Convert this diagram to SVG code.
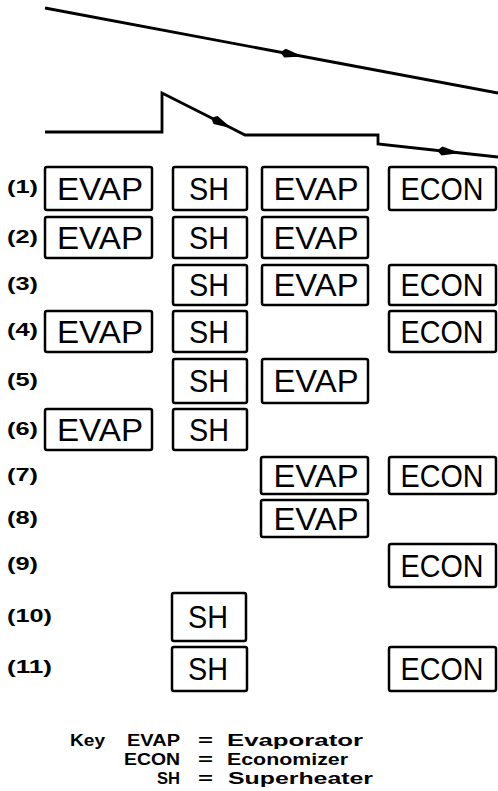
<svg xmlns="http://www.w3.org/2000/svg" width="498" height="791" viewBox="0 0 498 791">
<style>
.box rect{fill:#fff;stroke:#000;stroke-width:2.5}
.box text{font-family:"Liberation Sans",Arial,sans-serif;font-size:32px;fill:#000;text-anchor:middle}
.lbl{font-family:"Liberation Sans",Arial,sans-serif;font-size:18px;font-weight:bold;fill:#000}
.key{font-family:"Liberation Sans",Arial,sans-serif;font-size:16px;font-weight:bold;fill:#000}
.ln{fill:none;stroke:#000;stroke-width:2.8;stroke-linejoin:miter}
</style>
<defs>
<marker id="ah" markerUnits="userSpaceOnUse" markerWidth="30" markerHeight="14" refX="0" refY="0" viewBox="-12 -7 30 14" orient="auto" overflow="visible">
<polygon points="-10,0 -5,-4.5 13,0 -5,4.5" fill="#000"/>
</marker>
</defs>
<rect width="498" height="791" fill="#fff"/>
<g id="connectors">
<path class="ln" d="M45,8 L290,54" marker-end="url(#ah)"/>
<path class="ln" d="M290,54 L498,93"/>
<path class="ln" d="M45,132 H162 V93 L220,122.3" marker-end="url(#ah)"/>
<path class="ln" d="M220,122.3 L245,135 H378 V144 L447,151.5" marker-end="url(#ah)"/>
<path class="ln" d="M447,151.5 L498,157"/>
</g>
<g id="labels">
<text class="lbl" x="7" y="193" textLength="31" lengthAdjust="spacingAndGlyphs">(1)</text>
<text class="lbl" x="7" y="243" textLength="31" lengthAdjust="spacingAndGlyphs">(2)</text>
<text class="lbl" x="7" y="290" textLength="31" lengthAdjust="spacingAndGlyphs">(3)</text>
<text class="lbl" x="7" y="336" textLength="31" lengthAdjust="spacingAndGlyphs">(4)</text>
<text class="lbl" x="7" y="386" textLength="31" lengthAdjust="spacingAndGlyphs">(5)</text>
<text class="lbl" x="7" y="435" textLength="31" lengthAdjust="spacingAndGlyphs">(6)</text>
<text class="lbl" x="7" y="481" textLength="31" lengthAdjust="spacingAndGlyphs">(7)</text>
<text class="lbl" x="7" y="524" textLength="31" lengthAdjust="spacingAndGlyphs">(8)</text>
<text class="lbl" x="7" y="570" textLength="31" lengthAdjust="spacingAndGlyphs">(9)</text>
<text class="lbl" x="7" y="622" textLength="45" lengthAdjust="spacingAndGlyphs">(10)</text>
<text class="lbl" x="7" y="673" textLength="45" lengthAdjust="spacingAndGlyphs">(11)</text>
</g>
<!-- row 1 -->
<g id="r1-evap1" class="box"><rect x="45" y="167" width="107" height="43" rx="2"/><text x="100" y="200" textLength="86" lengthAdjust="spacingAndGlyphs">EVAP</text></g>
<g id="r1-sh" class="box"><rect x="173" y="167" width="74" height="43" rx="2"/><text x="209" y="200" textLength="40" lengthAdjust="spacingAndGlyphs">SH</text></g>
<g id="r1-evap2" class="box"><rect x="262" y="167" width="106" height="43" rx="2"/><text x="316" y="200" textLength="85" lengthAdjust="spacingAndGlyphs">EVAP</text></g>
<g id="r1-econ" class="box"><rect x="389" y="167" width="107" height="43" rx="2"/><text x="442" y="200" textLength="83" lengthAdjust="spacingAndGlyphs">ECON</text></g>
<!-- row 2 -->
<g id="r2-evap1" class="box"><rect x="45" y="217" width="107" height="41" rx="2"/><text x="100" y="249" textLength="86" lengthAdjust="spacingAndGlyphs">EVAP</text></g>
<g id="r2-sh" class="box"><rect x="173" y="217" width="74" height="41" rx="2"/><text x="209" y="249" textLength="40" lengthAdjust="spacingAndGlyphs">SH</text></g>
<g id="r2-evap2" class="box"><rect x="262" y="217" width="106" height="41" rx="2"/><text x="316" y="249" textLength="85" lengthAdjust="spacingAndGlyphs">EVAP</text></g>
<!-- row 3 -->
<g id="r3-sh" class="box"><rect x="173" y="265" width="74" height="40" rx="2"/><text x="209" y="296" textLength="40" lengthAdjust="spacingAndGlyphs">SH</text></g>
<g id="r3-evap2" class="box"><rect x="262" y="265" width="106" height="40" rx="2"/><text x="316" y="296" textLength="85" lengthAdjust="spacingAndGlyphs">EVAP</text></g>
<g id="r3-econ" class="box"><rect x="389" y="265" width="107" height="40" rx="2"/><text x="442" y="296" textLength="83" lengthAdjust="spacingAndGlyphs">ECON</text></g>
<!-- row 4 -->
<g id="r4-evap1" class="box"><rect x="45" y="311" width="107" height="41" rx="2"/><text x="100" y="343" textLength="86" lengthAdjust="spacingAndGlyphs">EVAP</text></g>
<g id="r4-sh" class="box"><rect x="173" y="311" width="74" height="41" rx="2"/><text x="209" y="343" textLength="40" lengthAdjust="spacingAndGlyphs">SH</text></g>
<g id="r4-econ" class="box"><rect x="389" y="311" width="107" height="41" rx="2"/><text x="442" y="343" textLength="83" lengthAdjust="spacingAndGlyphs">ECON</text></g>
<!-- row 5 -->
<g id="r5-sh" class="box"><rect x="173" y="359" width="74" height="44" rx="2"/><text x="209" y="392" textLength="40" lengthAdjust="spacingAndGlyphs">SH</text></g>
<g id="r5-evap2" class="box"><rect x="262" y="359" width="106" height="44" rx="2"/><text x="316" y="392" textLength="85" lengthAdjust="spacingAndGlyphs">EVAP</text></g>
<!-- row 6 -->
<g id="r6-evap1" class="box"><rect x="45" y="409" width="107" height="41" rx="2"/><text x="100" y="441" textLength="86" lengthAdjust="spacingAndGlyphs">EVAP</text></g>
<g id="r6-sh" class="box"><rect x="173" y="409" width="74" height="41" rx="2"/><text x="209" y="441" textLength="40" lengthAdjust="spacingAndGlyphs">SH</text></g>
<!-- row 7 -->
<g id="r7-evap2" class="box"><rect x="261" y="457" width="107" height="37" rx="2"/><text x="316" y="487" textLength="85" lengthAdjust="spacingAndGlyphs">EVAP</text></g>
<g id="r7-econ" class="box"><rect x="389" y="457" width="107" height="37" rx="2"/><text x="442" y="487" textLength="83" lengthAdjust="spacingAndGlyphs">ECON</text></g>
<!-- row 8 -->
<g id="r8-evap2" class="box"><rect x="261" y="500" width="107" height="37" rx="2"/><text x="316" y="530" textLength="85" lengthAdjust="spacingAndGlyphs">EVAP</text></g>
<!-- row 9 -->
<g id="r9-econ" class="box"><rect x="389" y="544" width="107" height="43" rx="2"/><text x="442" y="577" textLength="83" lengthAdjust="spacingAndGlyphs">ECON</text></g>
<!-- row 10 -->
<g id="r10-sh" class="box"><rect x="172" y="593" width="74" height="48" rx="2"/><text x="208" y="628" textLength="40" lengthAdjust="spacingAndGlyphs">SH</text></g>
<!-- row 11 -->
<g id="r11-sh" class="box"><rect x="172" y="647" width="75" height="44" rx="2"/><text x="208" y="680" textLength="40" lengthAdjust="spacingAndGlyphs">SH</text></g>
<g id="r11-econ" class="box"><rect x="389" y="647" width="107" height="44" rx="2"/><text x="442" y="680" textLength="83" lengthAdjust="spacingAndGlyphs">ECON</text></g>
<g id="key">
<text class="key" x="70" y="746" textLength="35" lengthAdjust="spacingAndGlyphs">Key</text>
<text class="key" x="127" y="746" textLength="53" lengthAdjust="spacingAndGlyphs">EVAP</text>
<text class="key" x="198" y="746" textLength="15" lengthAdjust="spacingAndGlyphs">=</text>
<text class="key" x="227" y="746" textLength="136" lengthAdjust="spacingAndGlyphs">Evaporator</text>
<text class="key" x="124" y="765" textLength="56" lengthAdjust="spacingAndGlyphs">ECON</text>
<text class="key" x="198" y="765" textLength="15" lengthAdjust="spacingAndGlyphs">=</text>
<text class="key" x="227" y="765" textLength="121" lengthAdjust="spacingAndGlyphs">Economizer</text>
<text class="key" x="157" y="784" textLength="23" lengthAdjust="spacingAndGlyphs">SH</text>
<text class="key" x="198" y="784" textLength="15" lengthAdjust="spacingAndGlyphs">=</text>
<text class="key" x="228" y="784" textLength="145" lengthAdjust="spacingAndGlyphs">Superheater</text>
</g>
</svg>
